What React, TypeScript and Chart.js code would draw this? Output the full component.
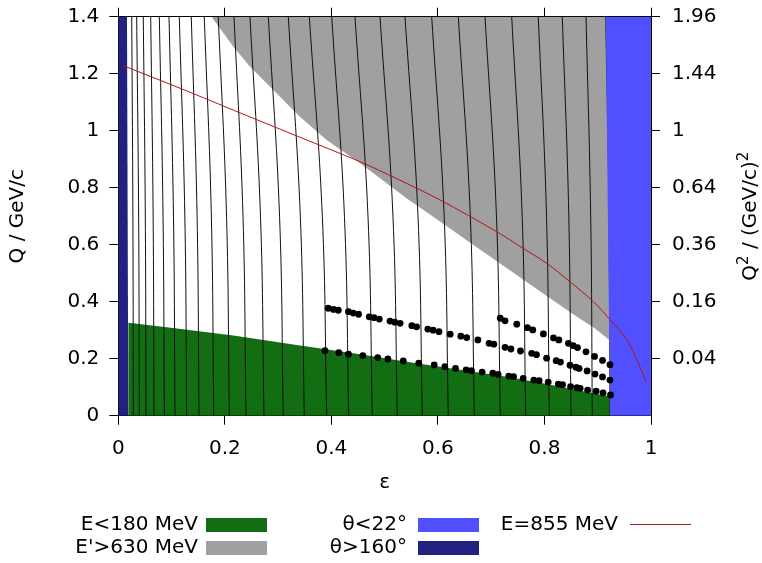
import React, { useEffect, useRef } from 'react';
import { Chart, registerables } from 'chart.js';
Chart.register(...registerables);

// ---- axis ticks ----
const xTickValues = [0, 0.2, 0.4, 0.6, 0.8, 1];
const xTickLabels = ['0', '0.2', '0.4', '0.6', '0.8', '1'];
const yTickValues = [0, 0.2, 0.4, 0.6, 0.8, 1, 1.2, 1.4];
const yTickLabels = ['0', '0.2', '0.4', '0.6', '0.8', '1', '1.2', '1.4'];
const q2TickValues = [0.2, 0.4, 0.6, 0.8, 1, 1.2, 1.4];
const q2TickLabels = ['0.04', '0.16', '0.36', '0.64', '1', '1.44', '1.96'];

// ---- regions (epsilon, Q) ----
const greenEps = [0.019, 0.019, 0.091, 0.216, 0.341, 0.454, 0.541, 0.604, 0.729, 0.792, 0.854, 0.923, 0.923];
const greenQ = [0, 0.326, 0.310, 0.281, 0.246, 0.216, 0.189, 0.172, 0.137, 0.116, 0.093, 0.067, 0];

const grayEps = [0.175, 0.216, 0.247, 0.291, 0.341, 0.391, 0.454, 0.541, 0.604, 0.666, 0.729, 0.792, 0.854, 0.895, 0.923, 0.915];
const grayQ = [1.4, 1.295, 1.225, 1.143, 1.049, 0.967, 0.886, 0.763, 0.681, 0.600, 0.518, 0.436, 0.356, 0.306, 0.264, 1.4];

const blueEps = [0.915, 0.923, 1, 1];
const blueQ = [1.4, 0, 0, 1.4];

const darkBlueEps = [0, 0.0188, 0.0163, 0];
const darkBlueQ = [0, 0, 1.4, 1.4];

// ---- E = 855 MeV line ----
const redEps = [0.0094, 0.116, 0.232, 0.341, 0.454, 0.529, 0.604, 0.710, 0.760, 0.804, 0.848, 0.892, 0.923, 0.955, 0.979, 0.991];
const redQ = [1.228, 1.149, 1.060, 0.977, 0.891, 0.826, 0.757, 0.646, 0.587, 0.535, 0.470, 0.400, 0.337, 0.266, 0.172, 0.119];

// ---- constant-angle lines: epsilon at Q = 1.4, 0.7, 0 ----
const lineQ = [1.4, 0.7, 0];
const lineEpsTop = [0.0252, 0.0345, 0.0469, 0.0608, 0.0770, 0.0952, 0.1145, 0.1370, 0.1614, 0.1877, 0.2172, 0.2472, 0.2816, 0.3191, 0.3586, 0.4006, 0.4443, 0.4913, 0.5382, 0.5883, 0.6383, 0.6884, 0.7385, 0.7884, 0.8335, 0.8780, 0.915];
const lineEpsMid = [0.0274, 0.0382, 0.0507, 0.0654, 0.0840, 0.1036, 0.1249, 0.1479, 0.1747, 0.2032, 0.2341, 0.2669, 0.3027, 0.3417, 0.3830, 0.4245, 0.4687, 0.5156, 0.5626, 0.6117, 0.6608, 0.7099, 0.7582, 0.8039, 0.8457, 0.8868, 0.921];
const lineEpsBottom = [0.0282, 0.0394, 0.0520, 0.0670, 0.0864, 0.1064, 0.1284, 0.1515, 0.1791, 0.2084, 0.2397, 0.2735, 0.3097, 0.3492, 0.3912, 0.4325, 0.4768, 0.5237, 0.5707, 0.6195, 0.6683, 0.7171, 0.7648, 0.8091, 0.8498, 0.8898, 0.923];

// ---- measured kinematics (dots) ----
const lowDotEps = [0.388, 0.414, 0.432, 0.459, 0.487, 0.506, 0.535, 0.564, 0.593, 0.613, 0.633, 0.653, 0.663, 0.683, 0.703, 0.713, 0.733, 0.742, 0.760, 0.780, 0.790, 0.807, 0.826, 0.834, 0.849, 0.861, 0.867, 0.881, 0.897, 0.910, 0.924];
const lowDotQ = [0.228, 0.221, 0.216, 0.211, 0.204, 0.199, 0.192, 0.184, 0.178, 0.172, 0.166, 0.161, 0.158, 0.153, 0.149, 0.145, 0.139, 0.137, 0.131, 0.125, 0.123, 0.118, 0.111, 0.109, 0.102, 0.098, 0.096, 0.090, 0.086, 0.080, 0.073];
const midDotEps = [0.394, 0.404, 0.413, 0.432, 0.441, 0.451, 0.471, 0.480, 0.490, 0.510, 0.519, 0.529, 0.551, 0.560, 0.581, 0.591, 0.602, 0.623, 0.643, 0.654, 0.675, 0.696, 0.705, 0.726, 0.737, 0.755, 0.776, 0.785, 0.804, 0.822, 0.830, 0.848, 0.859, 0.865, 0.880, 0.895, 0.909, 0.923];
const midDotQ = [0.377, 0.373, 0.370, 0.365, 0.360, 0.356, 0.347, 0.344, 0.339, 0.332, 0.328, 0.324, 0.316, 0.312, 0.304, 0.300, 0.295, 0.286, 0.279, 0.274, 0.266, 0.254, 0.251, 0.240, 0.234, 0.227, 0.219, 0.214, 0.202, 0.193, 0.188, 0.177, 0.170, 0.166, 0.157, 0.146, 0.136, 0.125];
const highDotEps = [0.717, 0.726, 0.748, 0.768, 0.778, 0.798, 0.817, 0.827, 0.845, 0.854, 0.862, 0.878, 0.894, 0.909, 0.923];
const highDotQ = [0.342, 0.333, 0.321, 0.309, 0.301, 0.287, 0.273, 0.266, 0.254, 0.246, 0.239, 0.224, 0.208, 0.194, 0.179];

// ---- legend ----
const legendLabels = ['E<180 MeV', "E'>630 MeV", 'θ<22°', 'θ>160°', 'E=855 MeV'];

const GREEN = '#136e13';
const GRAY = '#a0a0a0';
const BLUE = '#5050ff';
const DARKBLUE = '#21217f';
const RED = '#b41414';
const FONT = '"DejaVu Sans", sans-serif';
const BIG = 20;

const pts = (xs: number[], ys: number[]) => xs.map((x, i) => ({ x, y: ys[i] }));

const overlayPlugin = {
  id: 'overlay',
  afterDraw(chart: any) {
    const ctx = chart.ctx as CanvasRenderingContext2D;
    const a = chart.chartArea;
    ctx.save();
    ctx.fillStyle = '#000';
    ctx.font = `${BIG}px ${FONT}`;
    ctx.textBaseline = 'middle';
    ctx.textAlign = 'center';
    ctx.fillText('ε', (a.left + a.right) / 2, 483);
    const midY = (a.top + a.bottom) / 2;
    // left title
    ctx.save();
    ctx.translate(18, midY);
    ctx.rotate(-Math.PI / 2);
    ctx.fillText('Q / GeV/c', 0, 0);
    ctx.restore();
    // right title with superscripts
    ctx.save();
    ctx.translate(751, midY);
    ctx.rotate(-Math.PI / 2);
    const parts: [string, boolean][] = [['Q', false], ['2', true], [' / (GeV/c)', false], ['2', true]];
    const fnt = (sup: boolean) => (sup ? `${Math.round(BIG * 0.75)}px ${FONT}` : `${BIG}px ${FONT}`);
    let total = 0;
    for (const [t, s] of parts) { ctx.font = fnt(s); total += ctx.measureText(t).width; }
    let cx = -total / 2;
    ctx.textAlign = 'left';
    for (const [t, s] of parts) {
      ctx.font = fnt(s);
      ctx.fillText(t, cx, s ? -7 : 0);
      cx += ctx.measureText(t).width;
    }
    ctx.restore();

    // legend
    ctx.font = `${BIG}px ${FONT}`;
    ctx.textAlign = 'right';
    const rows = [525, 548];
    const entries = [
      { label: legendLabels[0], col: 0, row: 0, color: GREEN, kind: 'box' },
      { label: legendLabels[1], col: 0, row: 1, color: GRAY, kind: 'box' },
      { label: legendLabels[2], col: 1, row: 0, color: BLUE, kind: 'box' },
      { label: legendLabels[3], col: 1, row: 1, color: DARKBLUE, kind: 'box' },
      { label: legendLabels[4], col: 2, row: 0, color: RED, kind: 'line' },
    ];
    const textRight = [198, 407, 618];
    const sampleLeft = [206, 418, 630];
    for (const e of entries) {
      const y = rows[e.row];
      ctx.fillStyle = '#000';
      ctx.fillText(e.label, textRight[e.col], y);
      if (e.kind === 'box') {
        ctx.fillStyle = e.color;
        ctx.fillRect(sampleLeft[e.col], y - 7, 61, 14);
      } else {
        ctx.strokeStyle = e.color;
        ctx.lineWidth = 1;
        ctx.beginPath();
        ctx.moveTo(sampleLeft[e.col], y - 0.5);
        ctx.lineTo(sampleLeft[e.col] + 61, y - 0.5);
        ctx.stroke();
      }
    }
    ctx.restore();
  },
};

const fixSize = (prop: 'width' | 'height', size: number) => (s: any) => {
  s[prop] = size;
  s.paddingTop = 0;
  s.paddingBottom = 0;
  s.paddingLeft = 0;
  s.paddingRight = 0;
};

export default function App() {
  const ref = useRef<HTMLCanvasElement>(null);
  useEffect(() => {
    const lineSets = lineEpsTop.map((_, i) => ({
      data: pts([lineEpsTop[i], lineEpsMid[i], lineEpsBottom[i]], lineQ),
      borderColor: '#111',
      borderWidth: 1,
      pointRadius: 0,
      tension: 0.4,
      fill: false,
      order: 3,
    }));
    const region = (xs: number[], ys: number[], color: string, order: number) => ({
      data: pts(xs, ys),
      borderWidth: 0,
      borderColor: color,
      backgroundColor: color,
      pointRadius: 0,
      tension: 0,
      fill: 'shape',
      order,
    });
    const dots = (xs: number[], ys: number[]) => ({
      data: pts(xs, ys),
      showLine: false,
      pointRadius: 3.4,
      pointBackgroundColor: '#000',
      pointBorderColor: '#000',
      pointBorderWidth: 0,
      order: 0,
    });
    const tickFont = { family: FONT, size: BIG };
    const chart = new Chart(ref.current!, {
      type: 'line',
      data: {
        datasets: [
          region(greenEps, greenQ, GREEN, 6),
          region(grayEps, grayQ, GRAY, 6),
          region(darkBlueEps, darkBlueQ, DARKBLUE, 4),
          ...lineSets,
          region(blueEps, blueQ, BLUE, 2),
          {
            data: pts(redEps, redQ),
            borderColor: RED,
            borderWidth: 1,
            pointRadius: 0,
            tension: 0.3,
            fill: false,
            order: 1,
          },
          dots(lowDotEps, lowDotQ),
          dots(midDotEps, midDotQ),
          dots(highDotEps, highDotQ),
        ] as any,
      },
      options: {
        responsive: false,
        animation: false,
        devicePixelRatio: 1,
        events: [],
        layout: { padding: 0 },
        plugins: { legend: { display: false }, tooltip: { enabled: false } },
        scales: {
          x: {
            type: 'linear', position: 'bottom', min: 0, max: 1,
            afterBuildTicks: (s: any) => { s.ticks = xTickValues.map(v => ({ value: v })); },
            ticks: { callback: (_v: any, i: number) => xTickLabels[i], color: '#000', font: tickFont, padding: 12, maxRotation: 0, autoSkip: false },
            grid: { drawOnChartArea: false, drawTicks: true, tickLength: 9, color: '#000' },
            border: { display: true, color: '#000', width: 1 },
            afterFit: fixSize('height', 147.3),
          },
          x2: {
            type: 'linear', position: 'top', min: 0, max: 1,
            afterBuildTicks: (s: any) => { s.ticks = xTickValues.map(v => ({ value: v })); },
            ticks: { display: false },
            grid: { drawOnChartArea: false, drawTicks: true, tickLength: 9, color: '#000' },
            border: { display: true, color: '#000', width: 1 },
            afterFit: fixSize('height', 16.7),
          },
          y: {
            type: 'linear', position: 'left', min: 0, max: 1.4,
            afterBuildTicks: (s: any) => { s.ticks = yTickValues.map(v => ({ value: v })); },
            ticks: { callback: (_v: any, i: number) => yTickLabels[i], color: '#000', font: tickFont, padding: 10, autoSkip: false },
            grid: { drawOnChartArea: false, drawTicks: true, tickLength: 9, color: '#000' },
            border: { display: true, color: '#000', width: 1 },
            afterFit: fixSize('width', 118.3),
          },
          y2: {
            type: 'linear', position: 'right', min: 0, max: 1.4,
            afterBuildTicks: (s: any) => { s.ticks = q2TickValues.map(v => ({ value: v })); },
            ticks: { callback: (_v: any, i: number) => q2TickLabels[i], color: '#000', font: tickFont, padding: 12, autoSkip: false },
            grid: { drawOnChartArea: false, drawTicks: true, tickLength: 9, color: '#000' },
            border: { display: true, color: '#000', width: 1 },
            afterFit: fixSize('width', 111),
          },
        },
      } as any,
      plugins: [overlayPlugin],
    });
    return () => chart.destroy();
  }, []);
  return (
    <div style={{ position: 'absolute', left: 0, top: 0, width: 762, height: 563, background: '#fff' }}>
      <canvas ref={ref} width={762} height={563} style={{ display: 'block', width: 762, height: 563 }} />
    </div>
  );
}
